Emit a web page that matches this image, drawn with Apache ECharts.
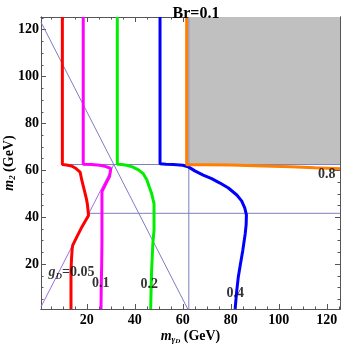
<!DOCTYPE html>
<html>
<head>
<meta charset="utf-8">
<script src="https://cdn.jsdelivr.net/npm/echarts@6/dist/echarts.min.js"></script>
<style>
html,body{margin:0;padding:0;background:#fff;}
#c{width:346px;height:346px;}
</style>
</head>
<body>
<div id="c"></div>
<script>
// ---- axis ranges and ticks ----
const xRange = [0.9, 125.5];
const yRange = [0.9, 125.4];
const majorTicks = [20, 40, 60, 80, 100, 120];
const minorTicks = [5, 10, 15, 25, 30, 35, 45, 50, 55, 65, 70, 75, 85, 90, 95, 105, 110, 115, 125];

// ---- contour curves (m_gammaD, m2) ----
const red005 = [[9.8,125.4],[9.8,62.5],[11.5,62.3],[13.7,61.9],[15.5,60.8],[17.2,59.3],[17.9,55.8],[18.6,53],[19.3,50.1],[19.8,48],[20.2,45.8],[20.5,43],[20.7,40.8],[20.2,40.2],[18,36],[16,32],[14.1,28],[13.9,26.6],[13.6,22],[13.4,17.3],[13.4,10],[13.4,0.9]];
const magenta01 = [[18.5,125.4],[18.5,62.6],[22,62.5],[25.5,62.2],[28,61.6],[30,60.8],[30.8,60],[29.5,57.5],[28,54.5],[26.3,51],[26.3,40],[26.3,30],[26.2,20],[26,10],[25.9,0.9]];
const green02 = [[32.7,125.4],[32.7,62.6],[34.5,62.5],[36.6,62.2],[39,61.5],[41.5,60.2],[43.5,58.6],[45,56],[46,53],[47,50.1],[47.6,47.5],[48,45.8],[48,40],[48,34.4],[47.6,30],[47.5,28.7],[47.2,22],[47,17.3],[46.8,10],[46.6,0.9]];
const blue04 = [[50.5,125.4],[50.5,62.8],[53,62.6],[56,62.5],[60,62.2],[62.5,61.4],[65,59.8],[68.5,58],[72,56.5],[75.5,54.6],[79,52.5],[82.5,49.5],[84.5,47],[85.8,44],[86.5,41],[86.4,37],[86,33],[85,26],[84,20],[83.1,14.4],[82.4,8],[81.8,0.9]];
const orange08 = [[61.6,125.4],[61.6,62.4],[70,62.4],[80,62.3],[93.5,61.9],[105,61.5],[115,61.1],[125.5,60.7]];

// ---- kinematic reference lines ----
const diagUp = [[0.9,1.8],[31.25,62.5]];
const diagDown = [[0.9,123.2],[62.5,0]];
const hLine625 = [[9.8,62.5],[125.5,62.5]];
const hLine417 = [[20.8,41.7],[125.5,41.7]];
const vLine625 = [[62.5,0.9],[62.5,125.4]];
const grayRegion = [[62.5,62.5],[125.5,125.4]];

// ---- contour labels ----
const labels = [
  {name:'{i|g}{s|D}{n|=0.05}', value:[4.0,16.5], align:'left'},
  {name:'{n|0.1}', value:[25.8,12.0], align:'center'},
  {name:'{n|0.2}', value:[46.0,11.2], align:'center'},
  {name:'{n|0.4}', value:[81.9,7.6], align:'center'},
  {name:'{n|0.8}', value:[120.0,58.3], align:'center'}
];

const FONT = 'Liberation Serif';
const frameColor = '#555';
const TXT = '#000';

function mkAxis(dim, pos, ticks, len, showLabel, extra) {
  const range = dim === 'x' ? xRange : yRange;
  return Object.assign({
    type: 'value', position: pos, min: range[0], max: range[1], offset: 0,
    axisLine: {show: true, onZero: false, lineStyle: {color: frameColor, width: 1}},
    axisTick: {show: true, inside: true, length: len, customValues: ticks, lineStyle: {color: frameColor, width: 1}},
    axisLabel: showLabel ? {show: true, customValues: ticks, fontFamily: FONT, fontWeight: 'bold', fontSize: 14, color: TXT, margin: dim === 'x' ? 4 : 2} : {show: false},
    splitLine: {show: false}
  }, extra || {});
}

const nameRich = {
  i: {fontFamily: FONT, fontStyle: 'italic', fontWeight: 'bold', fontSize: 14, color: TXT, lineHeight: 16},
  s: {fontFamily: FONT, fontStyle: 'italic', fontWeight: 'bold', fontSize: 9, color: TXT, lineHeight: 10, padding: [8,0,0,0]},
  n: {fontFamily: FONT, fontWeight: 'bold', fontSize: 14, color: TXT, lineHeight: 16}
};

const xAxes = [
  mkAxis('x','bottom',majorTicks,5,true,{name:'{i|m}{s|γ}{s2|D} {n|(GeV)}', nameLocation:'middle', nameGap:19, nameMoveOverlap:false,
    nameTextStyle:{rich:Object.assign({}, nameRich, {s2:{fontFamily:FONT,fontStyle:'italic',fontWeight:'bold',fontSize:7,color:TXT,lineHeight:8,padding:[11,0,0,0]}})}}),
  mkAxis('x','bottom',minorTicks,2.5,false),
  mkAxis('x','top',majorTicks,5,false),
  mkAxis('x','top',minorTicks,2.5,false)
];
const yAxes = [
  mkAxis('y','left',majorTicks,5,true,{name:'{i|m}{s|2} {n|(GeV)}', nameLocation:'middle', nameGap:24, nameRotate:90, nameMoveOverlap:false,
    nameTextStyle:{rich:nameRich}}),
  mkAxis('y','left',minorTicks,2.5,false),
  mkAxis('y','right',majorTicks,5,false),
  mkAxis('y','right',minorTicks,2.5,false)
];

function lineSeries(data, color, width, z) {
  return {type:'line', data:data, xAxisIndex:0, yAxisIndex:0, showSymbol:false, symbol:'none',
    lineStyle:{color:color, width:width}, z:z, silent:true, animation:false, clip:true};
}

const thinBlue = '#7d7dc2';
const series = [
  Object.assign(lineSeries(vLine625, thinBlue, 1, 3), {
    markArea:{silent:true, itemStyle:{color:'#c0c0c0'}, data:[[{coord:grayRegion[0]},{coord:grayRegion[1]}]]}
  }),
  lineSeries(hLine625, thinBlue, 1, 3),
  lineSeries(hLine417, thinBlue, 1, 3),
  lineSeries(diagDown, thinBlue, 1, 3),
  lineSeries(diagUp, '#a070dc', 1, 3),
  lineSeries(red005, '#ff0000', 3, 5),
  lineSeries(magenta01, '#ff00ff', 3, 5),
  lineSeries(green02, '#00ee00', 3, 5),
  lineSeries(blue04, '#0000ff', 3, 5),
  lineSeries(orange08, '#ff8000', 3, 5),
  {type:'scatter', xAxisIndex:0, yAxisIndex:0, symbolSize:0, z:10, silent:true, animation:false,
    data: labels.map(l => ({name:l.name, value:l.value,
      label:{show:true, position:'inside', align:l.align, verticalAlign:'middle', formatter:l.name,
        rich:{
          i:{fontFamily:FONT,fontStyle:'italic',fontWeight:'bold',fontSize:14,color:TXT,lineHeight:16},
          s:{fontFamily:FONT,fontStyle:'italic',fontWeight:'bold',fontSize:9,color:TXT,lineHeight:10,padding:[8,0,0,0]},
          n:{fontFamily:FONT,fontWeight:'bold',fontSize:14,color:TXT,lineHeight:16}
        }}}))}
];

const chart = echarts.init(document.getElementById('c'), null, {renderer:'canvas'});
chart.setOption({
  animation:false,
  backgroundColor:'#fff',
  title:{text:'Br=0.1', left:191, textAlign:'center', top:1, textStyle:{fontFamily:FONT, fontWeight:'bold', fontSize:16, color:TXT}},
  grid:{left:41, right:6, top:17, bottom:37, containLabel:false, outerBoundsMode:'none'},
  xAxis:xAxes, yAxis:yAxes, series:series
});
</script>
</body>
</html>
